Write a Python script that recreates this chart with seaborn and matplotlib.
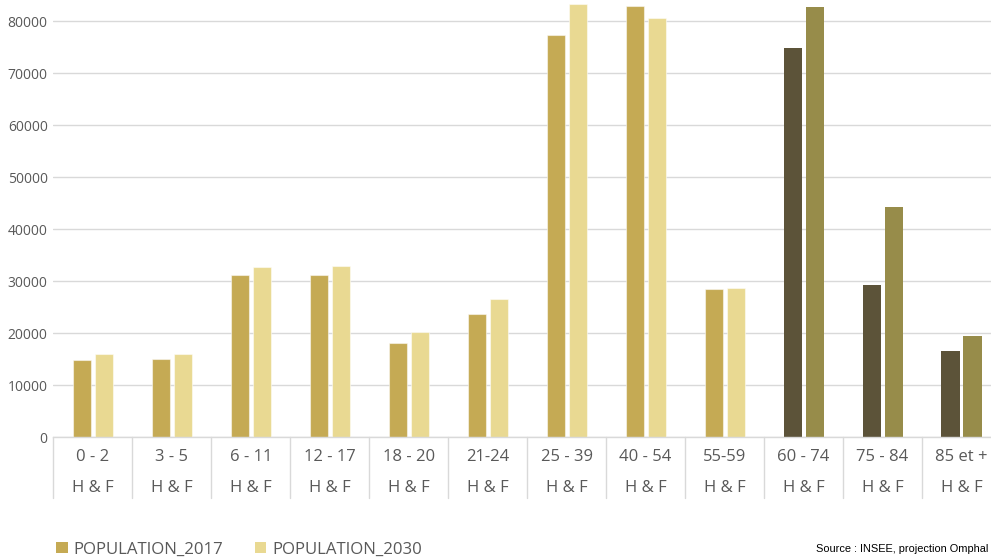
import matplotlib
matplotlib.use("Agg")
import matplotlib.pyplot as plt
from matplotlib.patches import Patch
import pandas as pd
import seaborn as sns

# Age groups (two-level labels) and population counts
age_groups = ["0 - 2", "3 - 5", "6 - 11", "12 - 17", "18 - 20", "21-24",
              "25 - 39", "40 - 54", "55-59", "60 - 74", "75 - 84", "85 et +"]
sub_label = "H & F"
pop_2017 = [14900, 15050, 31200, 31150, 18080, 23770,
            77370, 82940, 28520, 74860, 29290, 16600]
pop_2030 = [16080, 16020, 32690, 32940, 20250, 26600,
            83270, 80580, 28710, 82750, 44290, 19480]
series_names = ["POPULATION_2017", "POPULATION_2030"]
senior_groups = ["60 - 74", "75 - 84", "85 et +"]

C_2017, C_2030 = "#C5AA54", "#E9D992"
C_SEN_2017, C_SEN_2030 = "#5C5339", "#978C4A"
GRID = "#D9D9D9"
TXT = "#595959"

df = pd.DataFrame({
    "age": age_groups * 2,
    "series": [series_names[0]] * len(age_groups) + [series_names[1]] * len(age_groups),
    "population": pop_2017 + pop_2030,
})

sns.set_theme(style="white")
plt.rcParams["font.family"] = ["Open Sans", "DejaVu Sans"]

fig = plt.figure(figsize=(9.91, 5.57), dpi=100)
ax = fig.add_axes([53.3 / 991, 119.7 / 557, 947.7 / 991, 436.8 / 557])

sns.barplot(data=df, x="age", y="population", hue="series", order=age_groups,
            hue_order=series_names, palette=[C_2017, C_2030], saturation=1,
            width=0.557, gap=0.18, dodge=True, legend=False, ax=ax,
            edgecolor="none", linewidth=0)

# recolor the senior age groups
for p in ax.patches:
    cx = p.get_x() + p.get_width() / 2
    idx = int(round(cx))
    if 0 <= idx < len(age_groups) and age_groups[idx] in senior_groups:
        p.set_facecolor(C_SEN_2017 if cx < idx else C_SEN_2030)
    else:
        p.set_edgecolor((1, 1, 1, 0.5))
        p.set_linewidth(0.8)

ax.set_xlim(-0.5, len(age_groups) - 0.5)
ax.set_ylim(0, 84000)
ax.set_yticks(range(0, 80001, 10000))
ax.set_yticklabels([str(v) for v in range(0, 80001, 10000)], fontsize=10, color=TXT)
ax.tick_params(axis="y", length=0, pad=4)
ax.set_xticks([])
ax.set_xlabel("")
ax.set_ylabel("")
ax.grid(axis="y", color=GRID, linewidth=1)
ax.set_axisbelow(True)
for s in ["top", "right", "left"]:
    ax.spines[s].set_visible(False)
ax.spines["bottom"].set_color(GRID)
ax.spines["bottom"].set_linewidth(1)

# two-level category labels with separators
trans = ax.get_xaxis_transform()
for i, lab in enumerate(age_groups):
    ax.text(i, -0.045, lab, transform=trans, ha="center", va="center",
            fontsize=12, color=TXT)
    ax.text(i, -0.1154, sub_label, transform=trans, ha="center", va="center",
            fontsize=12, color=TXT)
for i in range(len(age_groups) + 1):
    ax.plot([i - 0.5, i - 0.5], [0, -0.139], transform=trans, color=GRID,
            linewidth=1, clip_on=False)

handles = [Patch(facecolor=C_2017, edgecolor="none"),
           Patch(facecolor=C_2030, edgecolor="none")]
fig.legend(handles, series_names, loc="center left", bbox_to_anchor=(0.057, 0.0135),
           ncol=2, frameon=False, fontsize=12.1, labelcolor=TXT,
           handlelength=0.7, handleheight=0.7, handletextpad=0.33,
           columnspacing=1.85, borderpad=0, borderaxespad=0)

fig.text(988 / 991, 1 - 549 / 557, "Source : INSEE, projection Omphal",
         ha="right", va="center", fontsize=7.9, color="black",
         family=["Liberation Sans", "DejaVu Sans"])

fig.savefig("out.png", dpi=100)
